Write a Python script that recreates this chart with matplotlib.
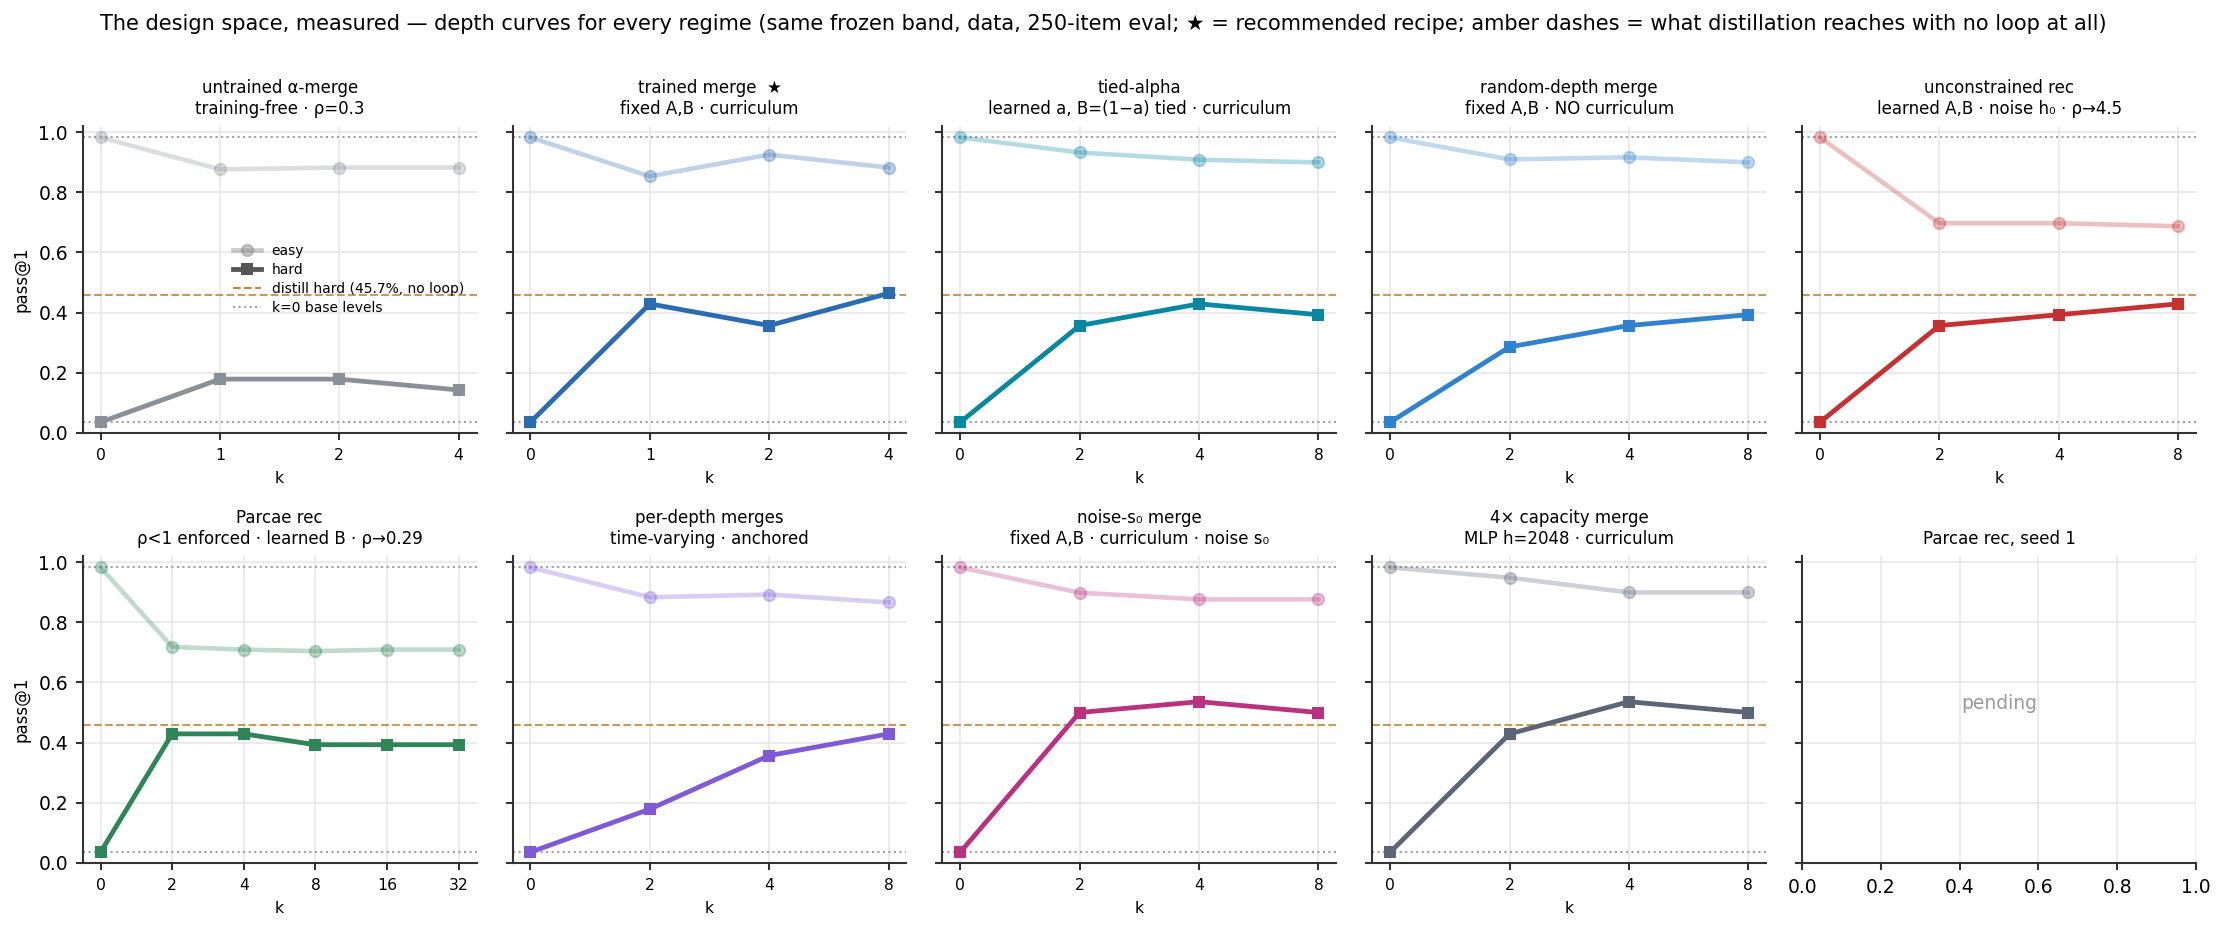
import matplotlib
matplotlib.use("Agg")
import matplotlib.pyplot as plt
from matplotlib.lines import Line2D

plt.rcParams['font.family'] = ['DejaVu Sans']

SUPTITLE = ("The design space, measured \u2014 depth curves for every regime (same frozen band, data, "
            "250-item eval; \u2605 = recommended recipe; amber dashes = what distillation reaches with no loop at all)")

titles = [
    "untrained \u03b1-merge\ntraining-free \u00b7 \u03c1=0.3",
    "trained merge  \u2605\nfixed A,B \u00b7 curriculum",
    "tied-alpha\nlearned a, B=(1\u2212a) tied \u00b7 curriculum",
    "random-depth merge\nfixed A,B \u00b7 NO curriculum",
    "unconstrained rec\nlearned A,B \u00b7 noise h\u2080 \u00b7 \u03c1\u21924.5",
    "Parcae rec\n\u03c1<1 enforced \u00b7 learned B \u00b7 \u03c1\u21920.29",
    "per-depth merges\ntime-varying \u00b7 anchored",
    "noise-s\u2080 merge\nfixed A,B \u00b7 curriculum \u00b7 noise s\u2080",
    "4\u00d7 capacity merge\nMLP h=2048 \u00b7 curriculum",
]
pending_title = "Parcae rec, seed 1"

k_untrained = ['0', '1', '2', '4']
k_trained = ['0', '1', '2', '4']
k_tied = ['0', '2', '4', '8']
k_random = ['0', '2', '4', '8']
k_unc = ['0', '2', '4', '8']
k_parcae = ['0', '2', '4', '8', '16', '32']
k_perdepth = ['0', '2', '4', '8']
k_noise = ['0', '2', '4', '8']
k_cap = ['0', '2', '4', '8']

easy_untrained = [0.982, 0.876, 0.882, 0.882]
hard_untrained = [0.036, 0.179, 0.179, 0.143]
easy_trained = [0.982, 0.853, 0.925, 0.882]
hard_trained = [0.036, 0.429, 0.357, 0.464]
easy_tied = [0.982, 0.932, 0.908, 0.899]
hard_tied = [0.036, 0.357, 0.429, 0.393]
easy_random = [0.982, 0.909, 0.916, 0.899]
hard_random = [0.036, 0.286, 0.357, 0.393]
easy_unc = [0.982, 0.697, 0.697, 0.687]
hard_unc = [0.036, 0.357, 0.393, 0.429]
easy_parcae = [0.982, 0.718, 0.709, 0.704, 0.709, 0.709]
hard_parcae = [0.036, 0.429, 0.429, 0.393, 0.393, 0.393]
easy_perdepth = [0.982, 0.883, 0.892, 0.866]
hard_perdepth = [0.036, 0.179, 0.357, 0.429]
easy_noise = [0.982, 0.898, 0.876, 0.876]
hard_noise = [0.036, 0.500, 0.536, 0.500]
easy_cap = [0.982, 0.948, 0.899, 0.899]
hard_cap = [0.036, 0.429, 0.536, 0.500]

colors = ['#8a8f98', '#2b6cb0', '#0987a0', '#3182ce', '#c53030',
          '#2f855a', '#805ad5', '#b83280', '#5b6576']

base_easy = 0.982
base_hard = 0.036
distill_hard = 0.457

ks = [k_untrained, k_trained, k_tied, k_random, k_unc, k_parcae, k_perdepth, k_noise, k_cap]
easys = [easy_untrained, easy_trained, easy_tied, easy_random, easy_unc,
         easy_parcae, easy_perdepth, easy_noise, easy_cap]
hards = [hard_untrained, hard_trained, hard_tied, hard_random, hard_unc,
         hard_parcae, hard_perdepth, hard_noise, hard_cap]

AMBER = '#b7791f'

fig, axes = plt.subplots(2, 5, figsize=(2224 / 150, 930 / 150), dpi=150, sharey=True)
fig.subplots_adjust(left=82.7 / 2224, right=2196 / 2224, top=1 - 126 / 930,
                    bottom=1 - 863 / 930, wspace=0.0914, hspace=0.4007)

flat = axes.ravel()
for ax in flat:
    ax.grid(True, color='#e8e8e8', lw=0.8)
    ax.set_axisbelow(True)
    for s in ('top', 'right'):
        ax.spines[s].set_visible(False)
    for s in ('left', 'bottom'):
        ax.spines[s].set_color('#333333')
        ax.spines[s].set_linewidth(1.0)
    ax.tick_params(axis='y', labelsize=9, color='#333333', width=1.0)
    ax.tick_params(axis='x', labelsize=9, color='#333333', width=1.0)

for i, ax in enumerate(flat[:9]):
    c = colors[i]
    x = list(range(len(ks[i])))
    ax.axhline(base_easy, color='#a0a0a0', ls=':', lw=1.0, zorder=1)
    ax.axhline(base_hard, color='#a0a0a0', ls=':', lw=1.0, zorder=1)
    ax.axhline(distill_hard, color=AMBER, ls='--', lw=1.0, alpha=0.75, zorder=1)
    ax.plot(x, easys[i], color=c, alpha=0.3, lw=2.2, marker='o', ms=5.5, zorder=2)
    ax.plot(x, hards[i], color=c, lw=2.3, marker='s', ms=5, zorder=3)
    ax.set_xticks(x)
    ax.set_xticklabels(ks[i])
    ax.tick_params(axis='x', labelsize=7.5)
    ax.set_xlabel('k', fontsize=7.5)
    ax.set_title(titles[i], fontsize=8)

flat[9].set_title(pending_title, fontsize=8)
flat[9].text(0.5, 0.52, 'pending', transform=flat[9].transAxes, ha='center', va='center',
             color='#999999', fontsize=9)

axes[0, 0].set_ylim(0, 1.02)
axes[0, 0].set_yticks([0, 0.2, 0.4, 0.6, 0.8, 1.0])
axes[0, 0].set_ylabel('pass@1', fontsize=8)
axes[1, 0].set_ylabel('pass@1', fontsize=8)

handles = [
    Line2D([], [], color='#888888', alpha=0.45, lw=2.2, marker='o', ms=5.5),
    Line2D([], [], color='#555555', lw=2.3, marker='s', ms=5),
    Line2D([], [], color=AMBER, ls='--', lw=1.0, alpha=0.9),
    Line2D([], [], color='#a0a0a0', ls=':', lw=1.0),
]
labels = ['easy', 'hard', 'distill hard (45.7%, no loop)', 'k=0 base levels']
axes[0, 0].legend(handles, labels, loc='center right', frameon=False, fontsize=6.7,
                  labelspacing=0.35)

fig.text(100 / 2224, 1 - 30 / 930, SUPTITLE, ha='left', va='baseline', fontsize=10)

fig.savefig('out.png', dpi=150)
